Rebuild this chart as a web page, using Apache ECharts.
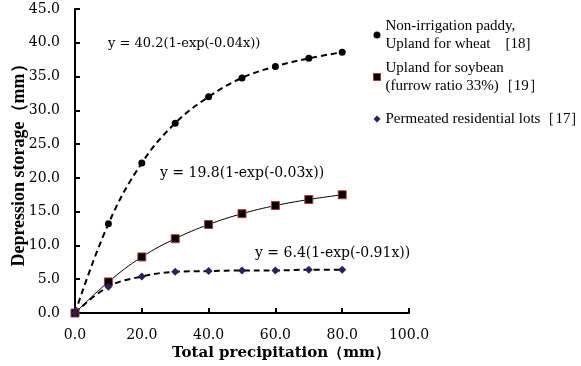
<!DOCTYPE html>
<html>
<head>
<meta charset="utf-8">
<script src="https://cdn.jsdelivr.net/npm/echarts@6/dist/echarts.min.js"></script>
<style>
html,body{margin:0;padding:0;background:#fff;}
#main{width:581px;height:366px;}
</style>
</head>
<body>
<div id="main"></div>
<script>
// rainfall (mm) at which storage was measured
var precipitation = [0, 10, 20, 30, 40, 50, 60, 70, 80];
// depression storage (mm)
var paddyWheat = [0, 13.2, 22.2, 28.1, 32.0, 34.8, 36.5, 37.7, 38.6];
var soybean = [0, 4.6, 8.3, 11.0, 13.1, 14.7, 15.9, 16.8, 17.5];
var residential = [0, 3.9, 5.4, 6.1, 6.2, 6.3, 6.3, 6.4, 6.4];

var seriesNames = [
  'Non-irrigation paddy,\nUpland for wheat    [18]',
  'Upland for soybean\n(furrow ratio 33%)［19］',
  'Permeated residential lots［17］'
];
var fitLabels = [
  'y = 40.2(1-exp(-0.04x))',
  'y = 19.8(1-exp(-0.03x))',
  'y = 6.4(1-exp(-0.91x))'
];

function pairs(ys) {
  return precipitation.map(function (x, i) { return [x, ys[i]]; });
}

// the source figure's Times text is stretched wide, DejaVu Serif fits it better
var serif = 'DejaVu Serif';
var myChart = echarts.init(document.getElementById('main'));

var option = {
  animation: false,
  grid: {left: 75, right: 172, top: 9, bottom: 53, outerBoundsMode: 'none', containLabel: false},
  legend: {
    orient: 'vertical',
    left: 373,
    top: 8,
    padding: 0,
    itemGap: -12,
    itemWidth: 7,
    itemHeight: 7,
    textStyle: {fontFamily: 'Liberation Serif', fontSize: 15, color: '#000', lineHeight: 18},
    data: [
      {name: seriesNames[0], icon: 'circle', itemStyle: {color: '#000', borderWidth: 0},
        textStyle: {padding: [18, 0, 0, 0]}},
      {name: seriesNames[1], icon: 'rect', itemStyle: {color: '#000', borderColor: '#a33', borderWidth: 1},
        textStyle: {padding: [18, 0, 0, 0]}},
      {name: seriesNames[2], icon: 'diamond', itemStyle: {color: '#2b1f5c', borderWidth: 0},
        textStyle: {padding: [18, 0, 18, 0]}}
    ]
  },
  xAxis: {
    type: 'value',
    min: 0, max: 100, interval: 20,
    name: 'Total precipitation（mm）',
    nameLocation: 'middle',
    nameGap: 33,
    nameMoveOverlap: false,
    nameTextStyle: {fontFamily: serif, fontSize: 15, fontWeight: 'bold', color: '#000', padding: [0, 0, 0, 78]},
    axisLine: {lineStyle: {color: '#000', width: 2}},
    axisTick: {inside: true, length: 5, lineStyle: {width: 2}},
    axisLabel: {fontFamily: serif, fontSize: 14, color: '#000', margin: 15,
      formatter: function (v) { return v.toFixed(1); }},
    splitLine: {show: false}
  },
  yAxis: {
    type: 'value',
    min: 0, max: 45, interval: 5,
    name: 'Depression storage（mm）',
    nameLocation: 'middle',
    nameGap: 47,
    nameMoveOverlap: false,
    nameTextStyle: {fontFamily: 'Liberation Serif', fontSize: 18, fontWeight: 'bold', color: '#000'},
    axisLine: {show: true, lineStyle: {color: '#000', width: 2}},
    axisTick: {show: true, inside: true, length: 5, lineStyle: {width: 2}},
    axisLabel: {fontFamily: serif, fontSize: 14, color: '#000', margin: 15,
      formatter: function (v) { return v.toFixed(1); }},
    splitLine: {show: false}
  },
  graphic: [
    {type: 'text', left: 108, top: 37, style: {text: fitLabels[0], font: '13px "DejaVu Serif"', fill: '#000'}},
    {type: 'text', left: 160, top: 166, style: {text: fitLabels[1], font: '14px "DejaVu Serif"', fill: '#000'}},
    {type: 'text', left: 255, top: 246, style: {text: fitLabels[2], font: '14px "DejaVu Serif"', fill: '#000'}}
  ],
  series: [
    {
      name: seriesNames[0], type: 'line', data: pairs(paddyWheat), smooth: 0.4,
      symbol: 'circle', symbolSize: 7,
      itemStyle: {color: '#000'},
      lineStyle: {color: '#000', width: 2, type: [6, 4]}
    },
    {
      name: seriesNames[1], type: 'line', data: pairs(soybean), smooth: 0.4,
      symbol: 'rect', symbolSize: 8,
      itemStyle: {color: '#000', borderColor: '#b03a3a', borderWidth: 1},
      lineStyle: {color: '#000', width: 1}
    },
    {
      name: seriesNames[2], type: 'line', data: pairs(residential), smooth: 0.4,
      symbol: 'diamond', symbolSize: 8,
      itemStyle: {color: '#2b1f5c'},
      lineStyle: {color: '#000', width: 2, type: [6, 4]}
    }
  ]
};

myChart.setOption(option);
</script>
</body>
</html>
